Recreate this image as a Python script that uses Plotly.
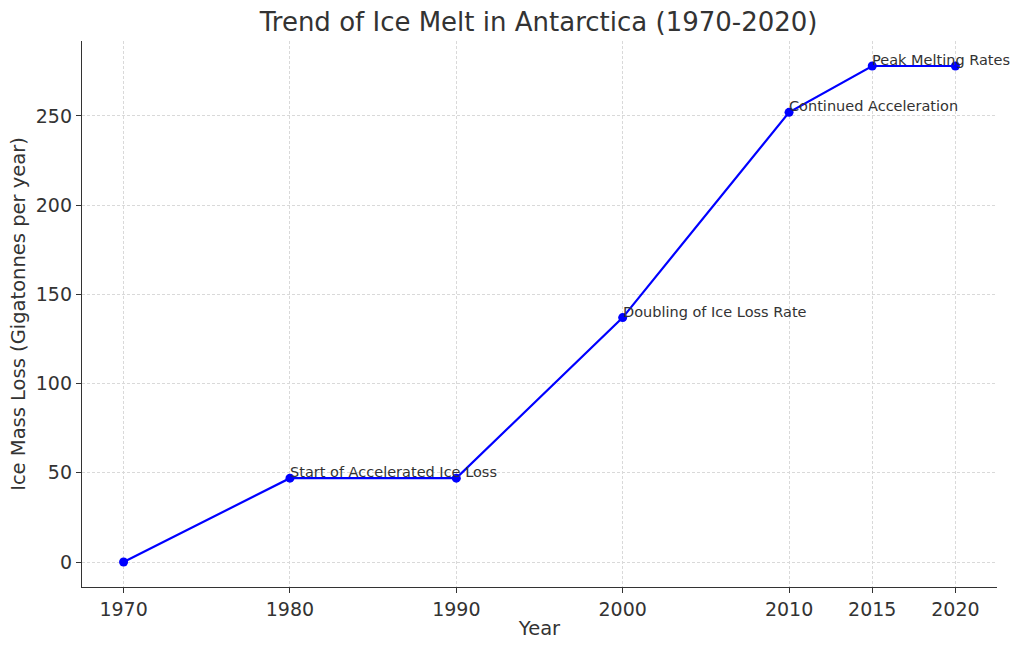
import plotly.graph_objects as go

years = [1970, 1980, 1990, 2000, 2010, 2015, 2020]
ice_loss = [0, 47, 47, 137, 252, 278, 278]
tick_years = [1970, 1980, 1990, 2000, 2010, 2015, 2020]
y_ticks = [0, 50, 100, 150, 200, 250]
notes_x = [1980, 2000, 2010, 2015]
notes_y = [47, 137, 252, 278]
notes_text = ["Start of Accelerated Ice Loss", "Doubling of Ice Loss Rate",
              "Continued Acceleration", "Peak Melting Rates"]

fig = go.Figure()
fig.add_trace(go.Scatter(
    x=years, y=ice_loss, mode="lines+markers",
    line=dict(color="#0000ff", width=2.2),
    marker=dict(color="#0000ff", size=9),
    showlegend=False,
))

for nx, ny, nt in zip(notes_x, notes_y, notes_text):
    fig.add_annotation(
        x=nx, y=ny, text=nt, showarrow=False,
        xanchor="left", yanchor="bottom", xshift=-2, yshift=-4,
        font=dict(family="DejaVu Sans", size=14.5, color="#333333"),
    )

axis_common = dict(
    showline=True, linecolor="#333333", linewidth=1.3,
    ticks="outside", ticklen=5, tickcolor="#333333",
    showgrid=True, gridcolor="#d9d9d9", griddash="3px,2px", gridwidth=1,
    zeroline=False, mirror=False,
    tickfont=dict(family="DejaVu Sans", size=19, color="#333333"),
    title_font=dict(family="DejaVu Sans", size=19.5, color="#333333"),
)

fig.update_layout(
    width=1024, height=650,
    paper_bgcolor="white", plot_bgcolor="white",
    margin=dict(l=82, r=27, t=41, b=63, autoexpand=False),
    title=dict(text="Trend of Ice Melt in Antarctica (1970-2020)",
               x=0.526, xanchor="center", y=0.966, yanchor="middle",
               font=dict(family="DejaVu Sans", size=26, color="#333333")),
    xaxis=dict(range=[1967.5, 2022.5], tickvals=tick_years,
               title=dict(text="Year", standoff=2), **axis_common),
    yaxis=dict(range=[-14, 292], tickvals=y_ticks,
               title=dict(text="Ice Mass Loss (Gigatonnes per year)", standoff=4),
               **axis_common),
)

fig.write_html("out.html", config={"displayModeBar": False},
               post_script="document.body.style.margin='0';")
